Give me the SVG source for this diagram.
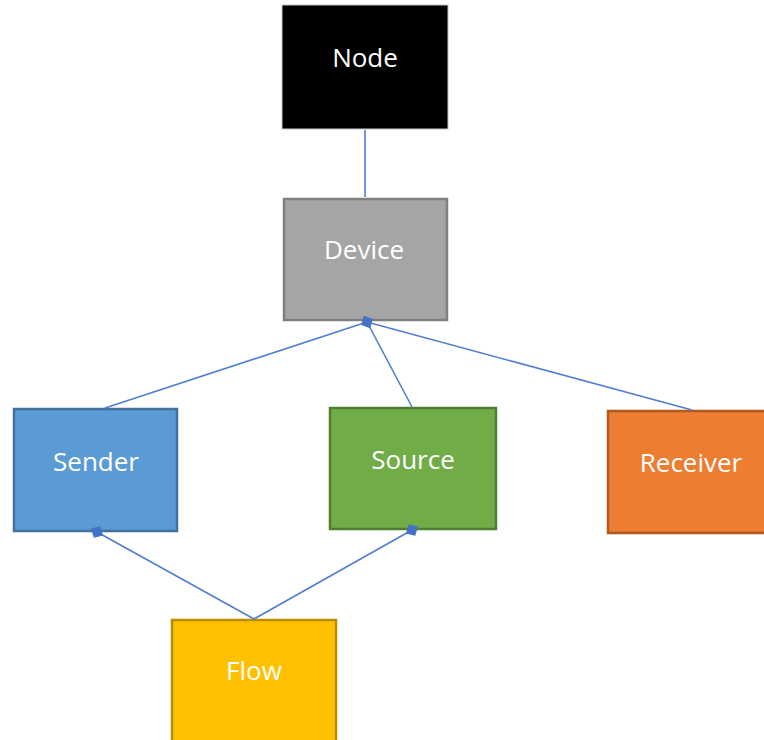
<svg xmlns="http://www.w3.org/2000/svg" width="764" height="740" viewBox="0 0 764 740">
<defs>
<style>
.box{stroke-width:2.5}
.lbl{font-family:"Open Sans","Liberation Sans",sans-serif;font-size:26px;fill:#ffffff;text-anchor:middle;dominant-baseline:central}
.conn{stroke:#4f7fd0;stroke-width:1.6;fill:none}
</style>
<marker id="dia" viewBox="-8 -8 16 16" markerWidth="16" markerHeight="16" refX="0" refY="0" orient="auto" markerUnits="userSpaceOnUse">
<path d="M-7,0 L0,-6.5 L7,0 L0,6.5 Z" fill="#4472c4"/>
</marker>
</defs>
<rect width="764" height="740" fill="#ffffff"/>
<g id="node-node">
<rect x="282" y="5" width="166" height="124" fill="#000000" stroke="#c8c8c8" stroke-width="1"/>
<text class="lbl" x="365" y="57">Node</text>
</g>
<g id="node-device">
<rect class="box" x="284" y="199" width="163" height="121" fill="#a5a5a5" stroke="#7f7f7f"/>
<text class="lbl" x="364" y="249">Device</text>
</g>
<g id="node-sender">
<rect class="box" x="14" y="409" width="163" height="122" fill="#5b9bd5" stroke="#41719c"/>
<text class="lbl" x="96" y="461">Sender</text>
</g>
<g id="node-source">
<rect class="box" x="330" y="408" width="166" height="121" fill="#70ad47" stroke="#507e32"/>
<text class="lbl" x="413" y="459">Source</text>
</g>
<g id="node-receiver">
<rect class="box" x="608" y="411" width="170" height="122" fill="#ed7d31" stroke="#ae5a21"/>
<text class="lbl" x="691" y="462">Receiver</text>
</g>
<g id="node-flow">
<rect class="box" x="172" y="620" width="164" height="130" fill="#ffc000" stroke="#bc8c00"/>
<text class="lbl" x="254" y="670">Flow</text>
</g>
<g id="connectors">
<line class="conn" x1="365" y1="130" x2="365" y2="197"/>
<line class="conn" x1="105" y1="408" x2="367" y2="322"/>
<line class="conn" x1="692" y1="410" x2="367" y2="322"/>
<line class="conn" x1="412" y1="407" x2="367" y2="322" marker-end="url(#dia)"/>
<line class="conn" x1="254" y1="619" x2="97" y2="532" marker-end="url(#dia)"/>
<line class="conn" x1="254" y1="619" x2="412" y2="530" marker-end="url(#dia)"/>
</g>
</svg>
